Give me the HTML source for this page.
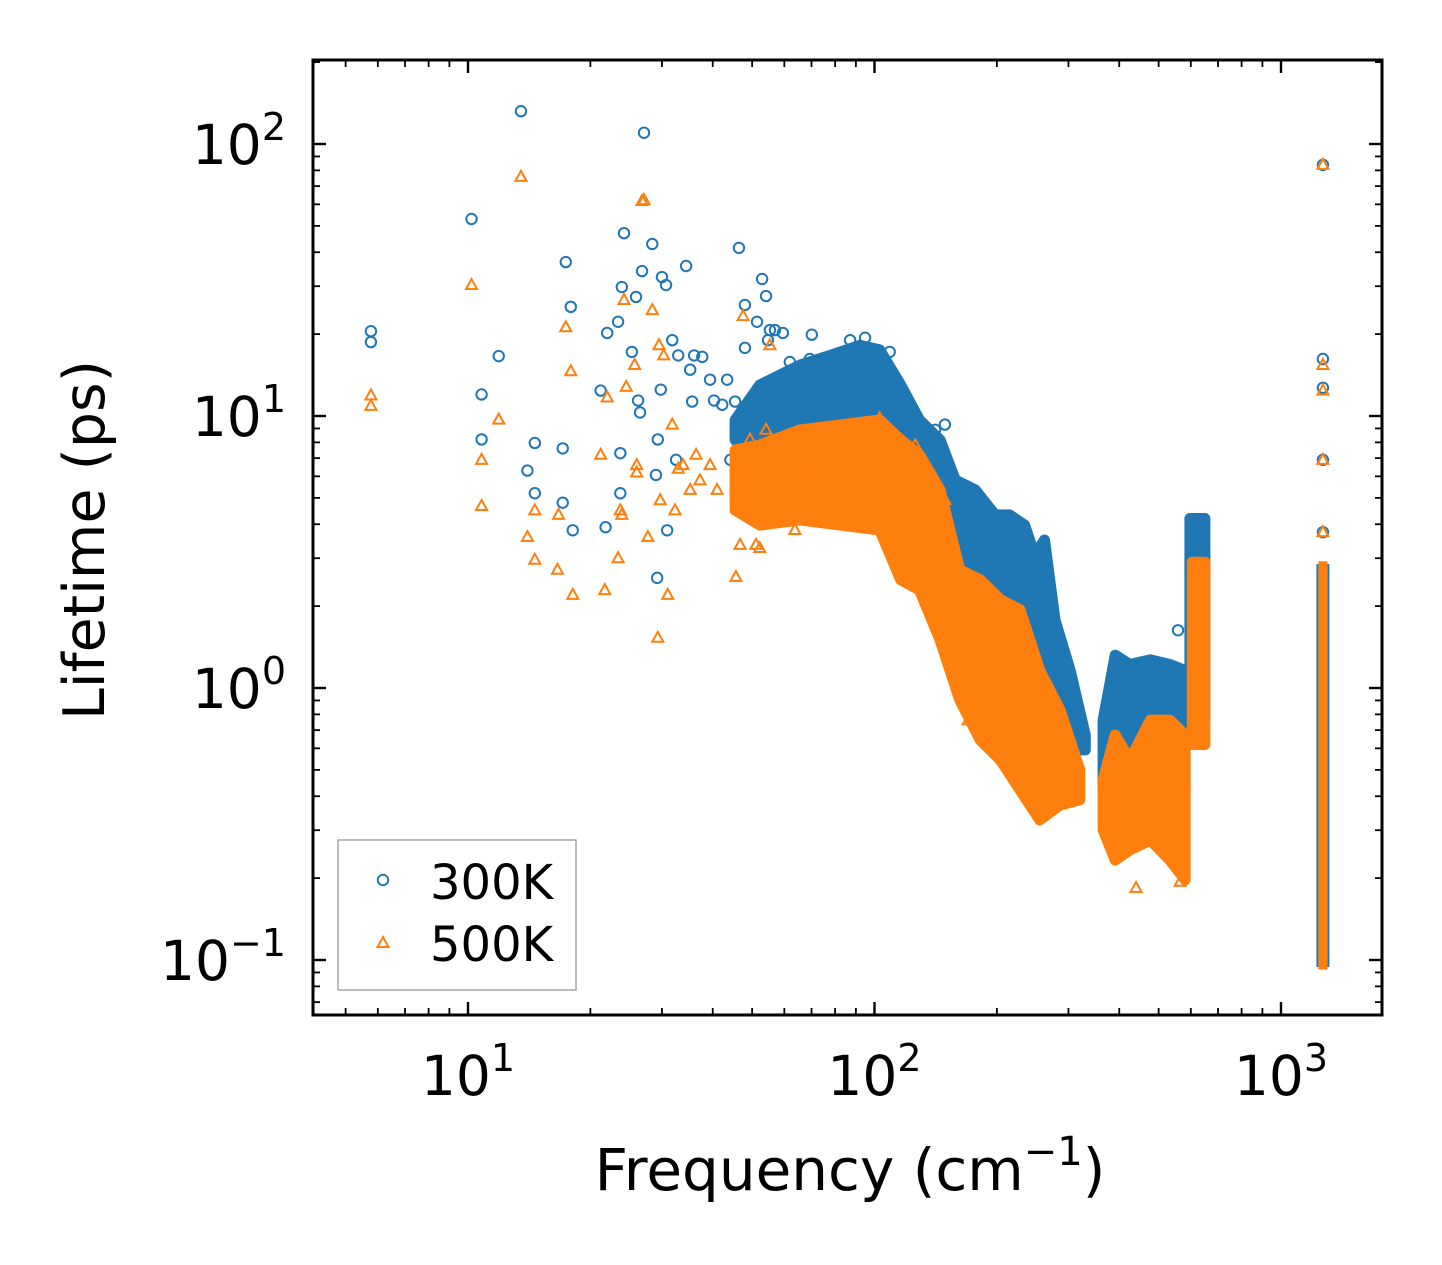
<!DOCTYPE html>
<html><head><meta charset="utf-8"><style>
html,body{margin:0;padding:0;background:#fff}
svg{display:block}
text{font-family:"DejaVu Sans","Liberation Sans",sans-serif;fill:#000}
</style></head><body>
<svg id="chart" width="1442" height="1265" viewBox="0 0 1442 1265" xmlns="http://www.w3.org/2000/svg">
<rect width="1442" height="1265" fill="#fff"/>
<g id="bands"></g>
<g id="points"></g>
<g id="axes"></g>
</svg>
<script>
// ---- data ----
const blueFreq=[5.77,5.77,10.2,10.8,10.8,11.9,14.0,14.6,14.6,17.1,17.1,17.4,17.9,18.1,21.2,21.8,22.0,23.4,23.7,23.7,23.9,24.2,25.3,25.9,26.2,26.5,26.8,28.4,29.0,29.2,29.3,29.8,30.0,30.7,30.9,31.8,32.5,32.9,34.4,35.2,35.6,36.0,37.7,39.4,40.3,42.2,43.4,45.4,46.4,46.4,48.0,48.0,51.4,52.9,54.1,54.7,55.3,56.9,59.5,61.9,69.3,70.1,73.4,46.7,48.9,44.2,50.0,52.2,13.5,27.1,558,632,1268,1268,1268,1268,1268,87.1,94.8,109,141,149,177,192,320];
const blueLife=[20.5,18.7,53,12.0,8.2,16.6,6.3,7.96,5.2,7.6,4.8,36.8,25.2,3.8,12.4,3.9,20.2,22.2,7.3,5.2,29.8,47,17.2,27.4,11.4,10.3,34.1,42.9,6.07,2.54,8.2,12.5,32.4,30.3,3.8,19.0,6.9,16.7,35.6,14.8,11.3,16.7,16.5,13.6,11.4,11.0,13.6,11.3,41.5,5.0,25.6,17.8,22.2,31.9,27.6,19.0,20.7,20.7,20.2,15.8,16.2,19.9,16.1,8.5,9.3,6.9,6.3,8.2,132,110,1.63,3.97,83.8,16.2,12.7,6.9,3.74,19.0,19.4,17.2,8.9,9.3,4.71,4.15,0.644];
const orangeFreq=[5.77,5.77,10.2,10.8,10.8,11.9,14.0,14.6,14.6,16.6,16.7,17.4,17.9,18.1,21.2,21.7,22.0,23.4,23.7,23.9,24.2,24.5,25.7,26.0,26.0,26.8,27.7,28.4,29.3,29.5,29.7,30.3,31.0,31.8,32.3,32.9,33.8,35.2,36.4,37.2,39.4,41.0,45.6,46.7,47.5,49.4,51.1,52.2,54.1,55.3,56.9,63.7,67.5,70.1,13.5,27.1,440,565,1268,1268,1268,1268,1268,103,126,149,255,286,303,170];
const orangeLife=[11.9,10.9,30.3,6.9,4.67,9.7,3.59,4.5,2.96,2.72,4.33,21.2,14.6,2.2,7.2,2.29,11.7,3.0,4.5,4.33,26.7,12.8,15.4,6.6,6.2,61.7,3.59,24.5,1.53,18.2,4.9,16.7,2.2,9.3,4.5,6.4,6.6,5.35,7.2,5.8,6.6,5.35,2.56,3.36,23.3,8.2,3.36,3.27,8.9,18.2,6.6,3.81,5.13,6.9,75.7,62.2,0.184,0.194,83.8,15.4,12.4,6.9,3.74,9.8,7.8,4.91,0.459,0.42,0.388,0.76];
// dense regions (envelopes of overlapping markers)
const blueBandFreq=[45.4,52.2,65.6,77.8,92.1,103,116,129,145,158,177,198,215,234,248,262,278,303,330];
const blueBandHi=[9.67,13.0,15.4,16.7,18.2,17.5,13.0,9.67,8.17,5.82,5.35,4.33,4.33,3.97,3.08,3.50,1.78,1.16,0.672];
const blueBandLo=[8.17,6.33,5.82,5.82,5.35,4.91,4.15,2.96,2.29,2.11,1.78,1.32,1.07,0.904,0.762,0.701,0.644,0.592,0.592];
const blueBand2Freq=[365,391,425,477,533,581];
const blueBand2Hi=[0.762,1.32,1.22,1.27,1.22,1.16];
const blueBand2Lo=[0.422,0.388,0.356,0.371,0.356,0.422];
const blueSpikeFreq=[597,650];const blueSpikeHi=[4.2,4.2];const blueSpikeLo=[0.762,0.762];
const orangeBandFreq=[45.4,52.2,65.6,82.2,103,116,129,145,162,182,204,228,255,286,320];
const orangeBandHi=[7.5,7.82,8.89,9.27,9.67,8.17,7.2,5.35,2.72,2.50,2.11,1.94,1.16,0.830,0.500];
const orangeBandLo=[4.51,3.97,4.15,3.97,3.81,2.50,2.29,1.50,0.904,0.644,0.543,0.422,0.327,0.371,0.388];
const orangeBand2Freq=[365,391,425,477,533,581];
const orangeBand2Hi=[0.459,0.672,0.543,0.762,0.762,0.672];
const orangeBand2Lo=[0.301,0.233,0.254,0.276,0.233,0.197];
const orangeSpikeFreq=[605,650];const orangeSpikeHi=[2.9,2.9];const orangeSpikeLo=[0.62,0.62];
const colFreq=1268;const blueColRange=[0.095,2.83];const orangeColRange=[0.093,2.9];
const xTicks=[10,100,1000];const xTickExp=["1","2","3"];
const yTicks=[0.1,1,10,100];const yTickExp=["−1","0","1","2"];
// ---- scales ----
const L=313,R=1382,T=60,B=1015;
const X=f=>468+(Math.log10(f)-1)*406.5;
const Y=v=>416-(Math.log10(v)-1)*272;
const NS='http://www.w3.org/2000/svg';
function mk(tag,attrs,parent){const e=document.createElementNS(NS,tag);for(const k in attrs)e.setAttribute(k,attrs[k]);parent.appendChild(e);return e;}
const BLUE='#1f77b4',ORANGE='#ff7f0e';
const pts=document.getElementById('points'),axes=document.getElementById('axes');
function band(fr,hi,lo,color,name,parent){
  let d='';fr.forEach((f,i)=>{d+=(i?'L':'M')+X(f).toFixed(1)+','+Y(hi[i]).toFixed(1);});
  for(let i=fr.length-1;i>=0;i--)d+='L'+X(fr[i]).toFixed(1)+','+Y(lo[i]).toFixed(1);
  const p=mk('path',{d:d+'Z',fill:color,stroke:color,'stroke-width':11,'stroke-linejoin':'round'},parent);
  
  
}
function circ(f,v,parent){const c=mk('circle',{cx:X(f),cy:Y(v),r:5.2,fill:'none',stroke:BLUE,'stroke-width':2},parent);
  
  }
function tri(f,v,parent){const x=X(f),y=Y(v);const t=mk('path',{d:`M${x},${y-6}L${x+5.5},${y+4}L${x-5.5},${y+4}Z`,fill:'none',stroke:ORANGE,'stroke-width':2},parent);
  
  }
// blue series
const gB=mk('g',{},pts);
band(blueBandFreq,blueBandHi,blueBandLo,BLUE,'band-300k-main',gB);
band(blueBand2Freq,blueBand2Hi,blueBand2Lo,BLUE,'band-300k-second',gB);
band(blueSpikeFreq,blueSpikeHi,blueSpikeLo,BLUE,'band-300k-spike',gB);
const cb=mk('rect',{x:X(colFreq)-5.5,y:Y(blueColRange[1]),width:11,height:Y(blueColRange[0])-Y(blueColRange[1]),fill:'none',stroke:BLUE,'stroke-width':2},gB);

blueFreq.forEach((f,i)=>circ(f,blueLife[i],gB));
// orange series
const gO=mk('g',{},pts);
band(orangeBandFreq,orangeBandHi,orangeBandLo,ORANGE,'band-500k-main',gO);
band(orangeBand2Freq,orangeBand2Hi,orangeBand2Lo,ORANGE,'band-500k-second',gO);
band(orangeSpikeFreq,orangeSpikeHi,orangeSpikeLo,ORANGE,'band-500k-spike',gO);
const co=mk('rect',{x:X(colFreq)-3.5,y:Y(orangeColRange[1]),width:7,height:Y(orangeColRange[0])-Y(orangeColRange[1]),fill:ORANGE,stroke:ORANGE,'stroke-width':2},gO);

orangeFreq.forEach((f,i)=>tri(f,orangeLife[i],gO));
// axes frame
const fr=mk('rect',{x:L,y:T,width:R-L,height:B-T,fill:'none',stroke:'#000','stroke-width':3},axes);

function line(x1,y1,x2,y2,w){mk('line',{x1,y1,x2,y2,stroke:'#000','stroke-width':w},axes);}
for(let e=0;e<=3;e++)for(let m=1;m<10;m++){const f=m*Math.pow(10,e);const x=X(f);if(x<L||x>R)continue;
  const len=m===1?13:7,w=m===1?2.4:1.8;line(x,B,x,B-len,w);line(x,T,x,T+len,w);}
for(let e=-2;e<=2;e++)for(let m=1;m<10;m++){const v=m*Math.pow(10,e);const y=Y(v);if(y<T||y>B)continue;
  const len=m===1?13:7,w=m===1?2.4:1.8;line(L,y,L+len,y,w);line(R,y,R-len,y,w);}
xTicks.forEach((f,i)=>{const t=mk('text',{x:X(f),y:1095,'font-size':55,'text-anchor':'middle'},axes);
  
  t.innerHTML=`10<tspan dy="-24" font-size="38">${xTickExp[i]}</tspan>`;});
yTicks.forEach((v,i)=>{const t=mk('text',{x:286,y:Y(v)+20,'font-size':55,'text-anchor':'end'},axes);
  
  t.innerHTML=`10<tspan dy="-24" font-size="38">${yTickExp[i]}</tspan>`;});
const xt=mk('text',{x:850,y:1190,'font-size':58,'text-anchor':'middle'},axes);

xt.innerHTML='Frequency (cm<tspan dy="-25" font-size="40">−1</tspan><tspan dy="25">)</tspan>';
const yt=mk('text',{x:0,y:0,'font-size':57,'text-anchor':'middle',transform:'translate(104,540) rotate(-90)'},axes);

yt.textContent='Lifetime (ps)';
// legend
const lg=mk('g',{},axes);
mk('rect',{x:338,y:840,width:238,height:150,fill:'#fff',stroke:'#999','stroke-width':1.3},lg);
const e1=mk('g',{},lg);
mk('circle',{cx:383,cy:880,r:5.2,fill:'none',stroke:BLUE,'stroke-width':2},e1);
const t1=mk('text',{x:430,y:899,'font-size':48},e1);t1.textContent='300K';
const e2=mk('g',{},lg);
mk('path',{d:'M383,937L388.5,947L377.5,947Z',fill:'none',stroke:ORANGE,'stroke-width':2},e2);
const t2=mk('text',{x:430,y:961,'font-size':48},e2);t2.textContent='500K';
</script>
</body></html>
